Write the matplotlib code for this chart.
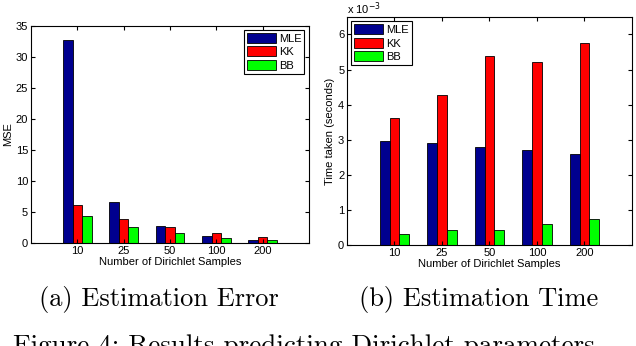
# Dirichlet parameter estimation: MSE and time, MLE vs KK vs BB
import numpy as np
import matplotlib
matplotlib.use("Agg")
import matplotlib.pyplot as plt

# Data
sample_labels = ["10", "25", "50", "100", "200"]
methods = ["MLE", "KK", "BB"]

mse_mle = [32.7, 6.6, 2.75, 1.1, 0.45]
mse_kk = [6.1, 3.85, 2.55, 1.6, 0.95]
mse_bb = [4.35, 2.55, 1.6, 0.8, 0.45]

# time values in units of 1e-3 seconds
time_mle = [2.95, 2.92, 2.78, 2.70, 2.60]
time_kk = [3.63, 4.28, 5.38, 5.23, 5.75]
time_bb = [0.30, 0.42, 0.42, 0.60, 0.73]

colors = ["#00008F", "#FF0000", "#00FF00"]

plt.rcParams["font.family"] = ["Liberation Sans", "DejaVu Sans"]
plt.rcParams["font.size"] = 8

fig = plt.figure(figsize=(6.36, 3.46), dpi=100)

x = np.arange(1, len(sample_labels) + 1)
bar_w = 0.205


def draw_panel(ax, series, ymax, yticks, legend_loc):
    for i, (vals, c, name) in enumerate(zip(series, colors, methods)):
        ax.bar(x + (i - 1) * bar_w, vals, width=bar_w, color=c,
               edgecolor="black", linewidth=0.6, label=name)
    ax.set_xlim(0, 6)
    ax.set_ylim(0, ymax)
    ax.set_xticks(x)
    ax.set_xticklabels(sample_labels)
    ax.set_yticks(yticks)
    ax.tick_params(direction="in", top=True, right=True, length=3,
                   width=0.8, pad=2, labelsize=8)
    for s in ax.spines.values():
        s.set_linewidth(0.8)
    ax.set_xlabel("Number of Dirichlet Samples", fontsize=8, labelpad=1)
    leg = ax.legend(loc=legend_loc, fancybox=False, edgecolor="black",
                    framealpha=1, fontsize=8, handlelength=2.6,
                    handleheight=1.0, borderpad=0.25, labelspacing=0.25,
                    handletextpad=0.3, borderaxespad=0.4)
    leg.get_frame().set_linewidth(0.8)


# (a) Estimation error
ax1 = fig.add_axes([0.0487, 0.2977, 0.437, 0.628])
draw_panel(ax1, [mse_mle, mse_kk, mse_bb], 35, np.arange(0, 36, 5),
           "upper right")
ax1.set_ylabel("MSE", fontsize=8, labelpad=2)

# (b) Estimation time
ax2 = fig.add_axes([0.5456, 0.292, 0.448, 0.659])
draw_panel(ax2, [time_mle, time_kk, time_bb], 6.5, np.arange(0, 7, 1),
           "upper left")
ax2.set_ylabel("Time taken (seconds)", fontsize=8, labelpad=2)
ax2.text(0.0, 1.0, r"x 10$^{-3}$", transform=ax2.transAxes,
         fontsize=8, ha="left", va="bottom")

# Captions
fig.text(159 / 636, 1 - 306 / 346, "(a) Estimation Error",
         family="cmr10", fontsize=19, ha="center", va="baseline")
fig.text(479 / 636, 1 - 306 / 346, "(b) Estimation Time",
         family="cmr10", fontsize=19, ha="center", va="baseline")
fig.text(13 / 636, 1 - 353 / 346, "Figure 4: Results predicting Dirichlet parameters",
         family="cmr10", fontsize=19.5, ha="left", va="baseline")

fig.savefig("out.png", dpi=100)
